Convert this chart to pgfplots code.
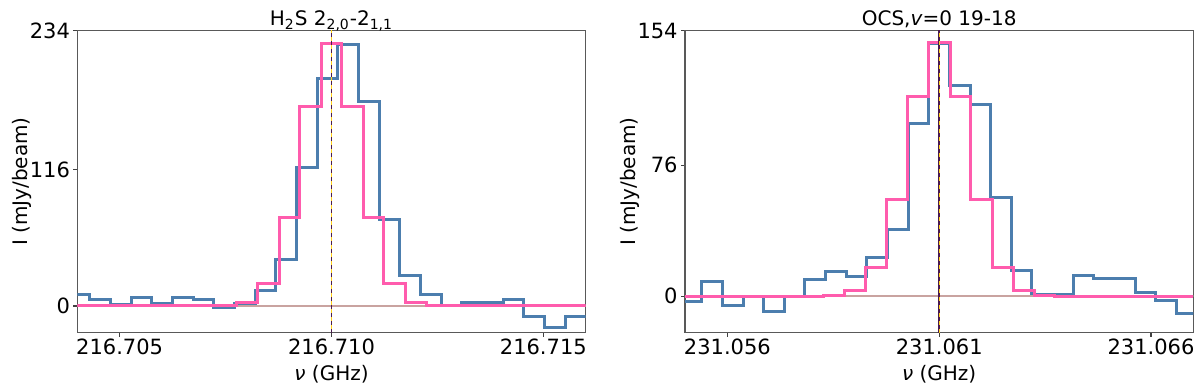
\documentclass[border=0pt]{standalone}
\usepackage{fontspec}
\setmainfont{DejaVu Sans}
\usepackage{pgfplots}
\pgfplotsset{compat=1.18}

\definecolor{obsblue}{HTML}{4C7EAE}
\definecolor{modpink}{HTML}{FF5CAD}
\definecolor{zeroline}{HTML}{C9A3A0}
\definecolor{vdark}{HTML}{4A1A4F}
\definecolor{vyellow}{HTML}{FFD21F}

% x is stored as offset from the line frequency in MHz (pgf FPU cannot resolve kHz at 216 GHz)
\pgfplotsset{
  spec/.style={
    width=254.2pt, height=150.9pt, scale only axis,
    xmin=-6, xmax=6, xtick={-5,0,5},
    axis line style={black!65, line width=0.7pt},
    tick style={black!75, line width=0.6pt},
    tick align=outside, major tick length=2pt,
    xtick pos=bottom, ytick pos=left,
    tick label style={font=\fontsize{10.5}{12}\selectfont},
    xticklabel style={inner sep=1pt},
    yticklabel style={inner sep=1.5pt},
    label style={font=\fontsize{10}{12}\selectfont},
    every axis title shift=0pt,
    title style={font=\fontsize{10}{12}\selectfont,
      at={(axis description cs:0.5,1.016)}, anchor=base},
    xlabel style={at={(axis description cs:0.5,-0.158)}, anchor=base},
    ylabel style={at={(axis description cs:-0.098,0.5)}, anchor=base},
    /pgf/number format/assume math mode=true,
    ylabel={I (mJy/beam)},
    xlabel={{\itshape ν} (GHz)},
    obs/.style={const plot mark left, obsblue, line width=1.5pt, line join=miter},
    mod/.style={const plot mark left, modpink, line width=1.5pt, line join=miter},
  },
}

\begin{document}
\begin{tikzpicture}
\begin{axis}[spec, at={(38.65pt,27.75pt)}, anchor=south west,
    ymin=-22.6, ymax=234, ytick={0,116,234},
    xticklabels={216.705,216.710,216.715},
    title={H\textsubscript{2}S 2\textsubscript{2,0}-2\textsubscript{1,1}}]
\addplot[obs] coordinates {
  (-6.195,9.9) (-5.707,5.4) (-5.220,1.4) (-4.732,7.4) (-4.244,2.0) (-3.756,7.4)
  (-3.268,5.4) (-2.780,-1.4) (-2.293,2.0) (-1.805,12.8) (-1.317,39.1) (-0.829,117.4)
  (-0.341,193.7) (0.146,222.6) (0.634,173.9) (1.122,73.2) (1.610,25.5) (2.098,9.9)
  (2.585,0) (3.073,2.8) (3.561,2.6) (4.049,5.4) (4.537,-9.1) (5.024,-18.2)
  (5.512,-9.4) (6.000,-9.4)
};
\addplot[zeroline, line width=0.8pt] coordinates {(-7,0) (7,0)};
\addplot[mod] coordinates {
  (-6,0) (-2.244,2.8) (-1.756,19.0) (-1.236,75.4) (-0.748,169.9) (-0.244,223.2)
  (0.244,169.9) (0.748,75.4) (1.236,19.0) (1.756,2.8) (2.244,0) (6,0)
};
\addplot[vdark, line width=0.9pt] coordinates {(0,-40) (0,300)};
\addplot[vyellow, line width=0.6pt, dash pattern=on 2pt off 2pt] coordinates {(0,-40) (0,300)};
\end{axis}

\begin{axis}[spec, at={(342.5pt,27.75pt)}, anchor=south west,
    ymin=-21.1, ymax=154, ytick={0,76,154},
    xticklabels={231.056,231.061,231.066},
    title={OCS,\textit{v}=0 19-18}]
\addplot[obs] coordinates {
  (-6.091,-3.3) (-5.604,8.5) (-5.117,-5.2) (-4.630,0) (-4.143,-9.1) (-3.656,0)
  (-3.169,9.5) (-2.682,14.3) (-2.195,11.6) (-1.708,22.5) (-1.221,38.9) (-0.734,100.1)
  (-0.247,146.4) (0.240,122.0) (0.727,110.9) (1.214,57.1) (1.701,14.7) (2.188,1.2)
  (2.675,0.8) (3.162,12.0) (3.649,10.1) (4.136,10.1) (4.623,2.3) (5.110,-2.7)
  (5.597,-10.1) (6.084,-10.1)
};
\addplot[zeroline, line width=0.8pt] coordinates {(-7,0) (7,0)};
\addplot[mod] coordinates {
  (-6,0) (-2.73,0.4) (-2.24,3.0) (-1.745,16.8) (-1.25,56.3) (-0.75,115.6) (-0.26,147.1)
  (0.26,115.6) (0.75,56.3) (1.25,16.8) (1.745,3.1) (2.24,0.4) (2.73,0) (6,0)
};
\addplot[vdark, line width=0.9pt] coordinates {(0,-40) (0,300)};
\addplot[vyellow, line width=0.6pt, dash pattern=on 2pt off 2pt] coordinates {(0,-40) (0,300)};
\end{axis}
\pgfresetboundingbox
\path[use as bounding box] (0,0) rectangle (600pt,194pt);
\end{tikzpicture}
\end{document}
